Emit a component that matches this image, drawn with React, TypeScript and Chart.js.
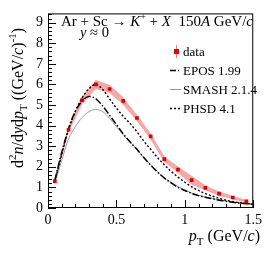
import React, { useEffect, useRef } from "react";
import { Chart, registerables } from "chart.js";

Chart.register(...registerables);

// ---- data ----
const dataPt = [0.05, 0.15, 0.25, 0.35, 0.45, 0.55, 0.65, 0.75, 0.85, 0.95, 1.05, 1.15, 1.25, 1.35, 1.45];
const dataY = [1.3, 3.8, 5.24, 6.0, 5.78, 5.2, 4.37, 3.48, 2.37, 1.86, 1.35, 0.98, 0.7, 0.51, 0.32];
const dataSys = [0.08, 0.15, 0.2, 0.22, 0.2, 0.18, 0.16, 0.15, 0.14, 0.15, 0.22, 0.12, 0.1, 0.08, 0.07];

const modelPt = [0.05, 0.1, 0.15, 0.2, 0.25, 0.3, 0.35, 0.4, 0.45, 0.5, 0.55, 0.6, 0.65, 0.7, 0.75, 0.8, 0.85, 0.9, 0.95, 1.0, 1.05, 1.1, 1.15, 1.2, 1.25, 1.3, 1.35, 1.4, 1.45, 1.5];
const eposY = [1.35, 2.7, 3.85, 4.7, 5.2, 5.42, 5.3, 4.95, 4.5, 4.05, 3.6, 3.2, 2.85, 2.45, 2.08, 1.75, 1.45, 1.22, 1.0, 0.85, 0.71, 0.6, 0.52, 0.45, 0.38, 0.33, 0.28, 0.24, 0.21, 0.18];
const smashY = [1.2, 2.3, 3.35, 3.95, 4.4, 4.68, 4.78, 4.68, 4.35, 3.95, 3.55, 3.2, 2.85, 2.45, 2.1, 1.77, 1.47, 1.24, 1.03, 0.87, 0.73, 0.62, 0.54, 0.46, 0.4, 0.34, 0.29, 0.25, 0.22, 0.19];
const phsdY = [1.3, 2.6, 3.8, 4.7, 5.35, 5.8, 6.0, 5.75, 5.3, 4.85, 4.45, 4.1, 3.7, 3.25, 2.85, 2.45, 2.1, 1.78, 1.5, 1.25, 1.03, 0.85, 0.7, 0.58, 0.47, 0.38, 0.31, 0.26, 0.22, 0.18];

const xTicks = [0, 0.5, 1, 1.5];
const yTicks = [0, 1, 2, 3, 4, 5, 6, 7, 8, 9];
const legendLabels = ["data", "EPOS 1.99", "SMASH 2.1.4", "PHSD 4.1"];

const SERIF = '"Liberation Serif", "Times New Roman", serif';
const RED = "#e00000";
const BAND = "rgba(238,115,115,0.62)";

type Seg = { t: string; i?: boolean; s?: number; dy?: number };

function segFont(sg: Seg, base: number) {
  return `${sg.i ? "italic " : ""}${sg.s ?? base}px ${SERIF}`;
}
function measureRich(ctx: CanvasRenderingContext2D, segs: Seg[], base: number) {
  let w = 0;
  for (const sg of segs) {
    ctx.font = segFont(sg, base);
    w += ctx.measureText(sg.t).width;
  }
  return w;
}
function drawRich(ctx: CanvasRenderingContext2D, segs: Seg[], x: number, y: number, base: number) {
  let cx = x;
  for (const sg of segs) {
    ctx.font = segFont(sg, base);
    ctx.fillText(sg.t, cx, y + (sg.dy ?? 0));
    cx += ctx.measureText(sg.t).width;
  }
}

const decorPlugin = {
  id: "decor",
  afterDraw(chart: any) {
    const ctx: CanvasRenderingContext2D = chart.ctx;
    const ca = chart.chartArea;
    const xs = chart.scales.x;
    const ys = chart.scales.y;
    ctx.save();
    ctx.strokeStyle = "#000";
    ctx.fillStyle = "#000";
    ctx.lineWidth = 1;
    // frame
    ctx.strokeRect(ca.left + 0.5, ca.top + 0.5, ca.right - ca.left - 1, ca.bottom - ca.top - 1);
    // x ticks
    ctx.beginPath();
    for (let k = 0; k <= 15; k++) {
      const v = k / 10;
      const px = Math.round(xs.getPixelForValue(v)) + 0.5;
      const len = k % 5 === 0 ? 8 : 4;
      ctx.moveTo(px, ca.bottom);
      ctx.lineTo(px, ca.bottom - len);
    }
    // y ticks
    for (let k = 0; k <= 47; k++) {
      const v = k / 5;
      if (v > ys.max) break;
      const py = Math.round(ys.getPixelForValue(v)) + 0.5;
      const len = k % 5 === 0 ? 8 : 4;
      ctx.moveTo(ca.left, py);
      ctx.lineTo(ca.left + len, py);
    }
    ctx.stroke();

    ctx.textAlign = "left";
    ctx.textBaseline = "alphabetic";
    // title
    const title: Seg[] = [
      { t: "Ar + Sc " },
      { t: "\u2192 " },
      { t: "K", i: true },
      { t: "+", s: 10, dy: -6 },
      { t: " + " },
      { t: "X", i: true },
      { t: "  150" },
      { t: "A", i: true },
      { t: " GeV/" },
      { t: "c", i: true },
    ];
    const tw = measureRich(ctx, title, 15);
    drawRich(ctx, title, 253 - tw, 26, 15);
    drawRich(ctx, [{ t: "y", i: true }, { t: " \u2248 0" }], 80, 37, 14.5);

    // legend
    const lx = 183;
    const lsize = 13;
    // data
    ctx.strokeStyle = "rgba(240,110,110,0.9)";
    ctx.beginPath();
    ctx.moveTo(176.5, 45);
    ctx.lineTo(176.5, 58);
    ctx.stroke();
    ctx.fillStyle = RED;
    ctx.fillRect(174, 49, 5, 5);
    ctx.fillStyle = "#000";
    drawRich(ctx, [{ t: legendLabels[0] }], lx, 56, lsize);
    // EPOS
    ctx.strokeStyle = "#000";
    ctx.lineWidth = 1.5;
    ctx.setLineDash([6, 2, 1, 2]);
    ctx.beginPath();
    ctx.moveTo(170, 70.5);
    ctx.lineTo(180, 70.5);
    ctx.stroke();
    drawRich(ctx, [{ t: legendLabels[1] }], lx, 75, lsize);
    // SMASH
    ctx.setLineDash([]);
    ctx.lineWidth = 1;
    ctx.strokeStyle = "#9a9a9a";
    ctx.beginPath();
    ctx.moveTo(170, 89.5);
    ctx.lineTo(181, 89.5);
    ctx.stroke();
    drawRich(ctx, [{ t: legendLabels[2] }], lx, 94, lsize);
    // PHSD
    ctx.strokeStyle = "#000";
    ctx.lineWidth = 1.5;
    ctx.setLineDash([2, 2]);
    ctx.beginPath();
    ctx.moveTo(170, 108.5);
    ctx.lineTo(181, 108.5);
    ctx.stroke();
    ctx.setLineDash([]);
    drawRich(ctx, [{ t: legendLabels[3] }], lx, 113, lsize);

    // x axis title (right aligned)
    const xt: Seg[] = [
      { t: "p", i: true },
      { t: "T", s: 11, dy: 4 },
      { t: " (GeV/" },
      { t: "c", i: true },
      { t: ")" },
    ];
    const xw = measureRich(ctx, xt, 16);
    drawRich(ctx, xt, 260 - xw, 241, 16);

    // y axis title (rotated, right aligned to top)
    const yt: Seg[] = [
      { t: "d" },
      { t: "2", s: 11, dy: -7 },
      { t: "n", i: true },
      { t: "/d" },
      { t: "y", i: true },
      { t: "d" },
      { t: "p", i: true },
      { t: "T", s: 11, dy: 4 },
      { t: " ((GeV/" },
      { t: "c", i: true },
      { t: ")" },
      { t: "-1", s: 11, dy: -7 },
      { t: ")" },
    ];
    const yw = measureRich(ctx, yt, 16);
    ctx.translate(23, 28 + yw);
    ctx.rotate(-Math.PI / 2);
    drawRich(ctx, yt, 0, 0, 16);
    ctx.restore();
  },
};

export default function App() {
  const ref = useRef<HTMLCanvasElement | null>(null);
  useEffect(() => {
    document.body.style.margin = "0";
    const canvas = ref.current!;
    const pts = (xs: number[], ys: number[]) => xs.map((x, i) => ({ x, y: ys[i] }));
    const chart = new Chart(canvas, {
      type: "line",
      data: {
        datasets: [
          {
            label: legendLabels[0],
            data: pts(dataPt, dataY),
            showLine: false,
            pointStyle: "rect",
            pointRadius: 2.6,
            pointBackgroundColor: RED,
            pointBorderColor: RED,
            pointBorderWidth: 0,
            order: 0,
          },
          {
            label: legendLabels[3],
            data: pts(modelPt, phsdY),
            borderColor: "#000",
            borderWidth: 1.4,
            borderDash: [2, 2],
            pointRadius: 0,
            cubicInterpolationMode: "monotone",
            fill: false,
            order: 1,
          },
          {
            label: legendLabels[1],
            data: pts(modelPt, eposY),
            borderColor: "#000",
            borderWidth: 1.5,
            borderDash: [7, 2, 1.5, 2],
            pointRadius: 0,
            cubicInterpolationMode: "monotone",
            fill: false,
            order: 2,
          },
          {
            label: legendLabels[2],
            data: pts(modelPt, smashY),
            borderColor: "#9a9a9a",
            borderWidth: 1,
            pointRadius: 0,
            cubicInterpolationMode: "monotone",
            fill: false,
            order: 3,
          },
          {
            label: "sys-up",
            data: pts(dataPt, dataY.map((v, i) => v + dataSys[i])),
            borderWidth: 0,
            borderColor: "rgba(0,0,0,0)",
            backgroundColor: BAND,
            pointRadius: 0,
            fill: "+1",
            order: 4,
          },
          {
            label: "sys-down",
            data: pts(dataPt, dataY.map((v, i) => v - dataSys[i])),
            borderWidth: 0,
            borderColor: "rgba(0,0,0,0)",
            pointRadius: 0,
            fill: false,
            order: 5,
          },
        ],
      },
      options: {
        animation: false,
        responsive: false,
        devicePixelRatio: 1,
        layout: { padding: { left: 0, right: 12, top: 11, bottom: 0 } },
        plugins: { legend: { display: false }, tooltip: { enabled: false } },
        scales: {
          x: {
            type: "linear",
            min: 0,
            max: 1.5,
            afterBuildTicks: (s: any) => {
              s.ticks = xTicks.map((v) => ({ value: v }));
            },
            afterFit: (s: any) => {
              s.height = 47;
            },
            grid: { display: false, drawTicks: false },
            border: { display: false },
            ticks: {
              padding: 4,
              color: "#000",
              font: { family: SERIF, size: 14 },
              maxRotation: 0,
              callback: (v: any) => String(v),
            },
          },
          y: {
            type: "linear",
            min: 0,
            max: 9.45,
            afterBuildTicks: (s: any) => {
              s.ticks = yTicks.map((v) => ({ value: v }));
            },
            afterFit: (s: any) => {
              s.width = 48;
            },
            grid: { display: false, drawTicks: false },
            border: { display: false },
            ticks: {
              padding: 5,
              color: "#000",
              font: { family: SERIF, size: 14 },
              callback: (v: any) => String(v),
            },
          },
        },
      },
      plugins: [decorPlugin],
    } as any);
    return () => chart.destroy();
  }, []);
  return <canvas ref={ref} width={266} height={255} style={{ display: "block" }} />;
}
